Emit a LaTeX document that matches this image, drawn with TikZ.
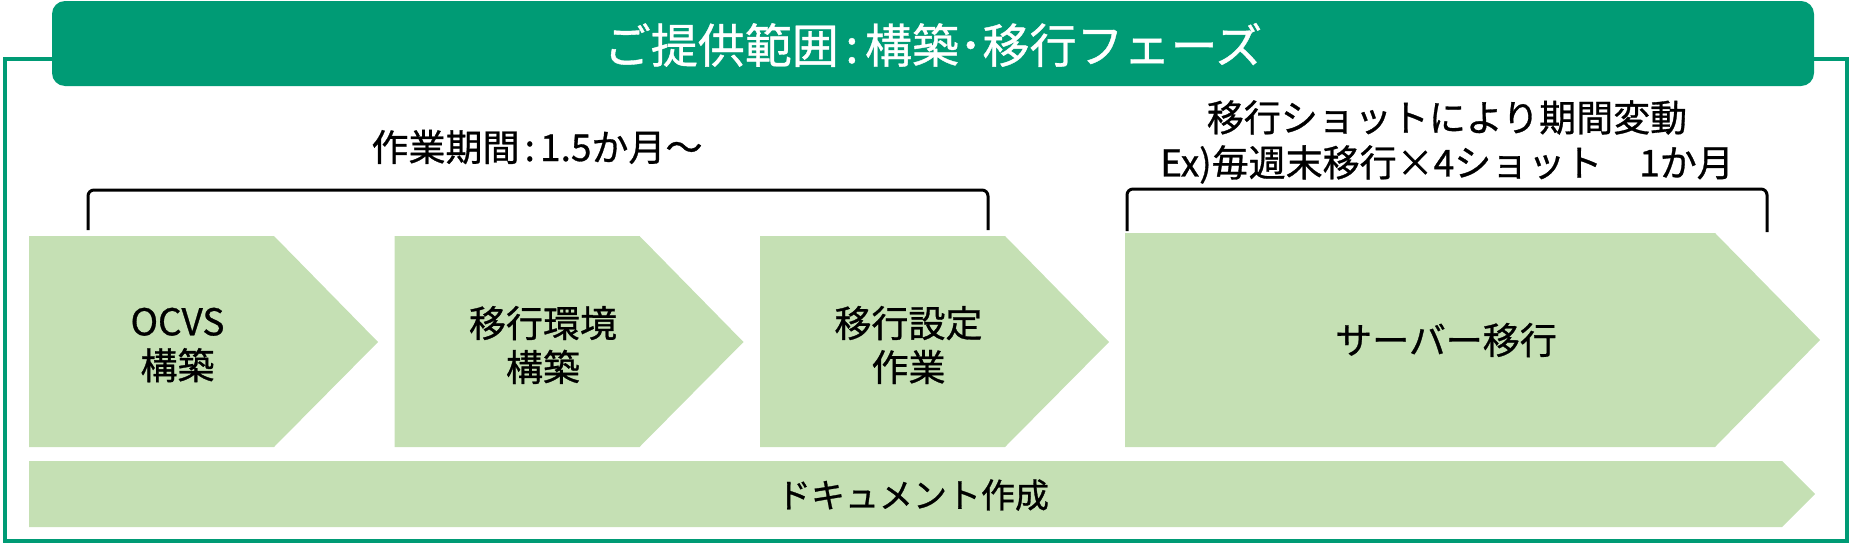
\documentclass[tikz,border=0pt]{standalone}
\usepackage{fontspec}
\setmainfont{Noto Sans CJK JP}[FakeBold=0.8]
\definecolor{hdgreen}{HTML}{009B75}
\definecolor{boxgreen}{HTML}{C5E0B4}
\tikzset{
  lbl/.style={font=\fontsize{18.5}{22}\selectfont, align=center, inner sep=0pt},
  bracket/.style={line width=1.5pt, rounded corners=3pt},
}
\begin{document}
\begin{tikzpicture}[x=0.5pt,y=-0.5pt]
    \useasboundingbox (0,0) rectangle (1852,546);
    % frame and title bar
    \draw[hdgreen,line width=2pt] (5,59) rectangle (1847,541);
    \fill[hdgreen,rounded corners=6.5pt] (52,1) rectangle (1814,86);
    \node[font=\fontsize{23.5}{28}\selectfont,text=white,inner sep=0pt] (title) at (933,45)
        {ご提供範囲\kern0.14em:\kern0.14em構築･移行フェーズ};
    % three build steps
    \foreach \i/\name/\txt in {0/ocvs/{OCVS\\構築},1/env/{移行環境\\構築},2/conf/{移行設定\\作業}} {
        \fill[boxgreen,xshift=182.75pt*\i] (29,236) -- (274,236) -- (378,342) -- (274,447) -- (29,447) -- cycle;
        \node[lbl] (\name) at ({177.5+365.5*\i},345) {\txt};
    }
    % migration
    \fill[boxgreen] (1125,233) -- (1715,233) -- (1820,340) -- (1715,447) -- (1125,447) -- cycle;
    \node[lbl] (srv) at (1446,340) {サーバー移行};
    % documents
    \fill[boxgreen] (29,461) -- (1782,461) -- (1815,494) -- (1782,527) -- (29,527) -- cycle;
    \node[lbl,font=\fontsize{17}{20}\selectfont] (doc) at (913,495) {ドキュメント作成};
    % periods
    \draw[bracket] (88,230) -- (88,190) -- (988,190) -- (988,230);
    \draw[bracket] (1127,231) -- (1127,189) -- (1767,189) -- (1767,232);
    \node[lbl] (span1) at (537,147) {作業期間\kern0.14em:\kern0.14em1.5か月〜};
    \node[lbl,font=\fontsize{18.5}{22.5}\selectfont] (span2) at (1447,142)
        {移行ショットにより期間変動\\Ex)毎週末移行×4ショット　1か月};
\end{tikzpicture}
\end{document}
